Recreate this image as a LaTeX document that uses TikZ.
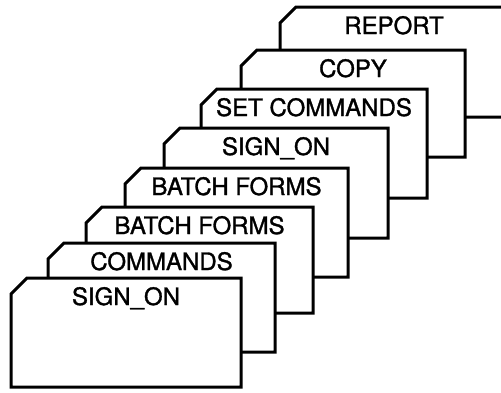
\documentclass[tikz,border=0pt]{standalone}
\usepackage{fontspec}
\newfontfamily\labfont[FakeBold=1.3]{TeX Gyre Heros}
\newcommand\drawcard[6]{%
  % #1 name, #2 left, #3 top, #4 width, #5 height, #6 text
  \draw[card] (#2,#3+16) -- (#2+16,#3) -- (#2+#4,#3) -- (#2+#4,#3+#5) -- (#2,#3+#5) -- cycle;
  \node[lab] (#1) at (#2+#4/2,#3+27) {#6};
}
\begin{document}
\begin{tikzpicture}[x=1pt,y=-1pt,
  card/.style={draw=black, fill=white, line width=3pt, line join=miter},
  lab/.style={anchor=base, inner sep=0pt, font=\labfont\fontsize{24}{26}\selectfont}]
\useasboundingbox (0,0) rectangle (501,392);
\clip (0,0) rectangle (501,392);
\drawcard{report}{280}{7}{228}{110}{REPORT}
\drawcard{copy}{241}{50}{224}{107}{COPY}
\drawcard{setcmd}{201}{89}{226}{109}{SET COMMANDS}
\drawcard{signonb}{164}{128}{224}{110}{SIGN\_ON}
\drawcard{batchb}{125}{168}{223}{109}{BATCH FORMS}
\drawcard{batcha}{86}{207}{227}{106}{BATCH FORMS}
\drawcard{commands}{48}{243}{227}{109}{COMMANDS}
\drawcard{signona}{11}{278}{230}{109}{SIGN\_ON}
\end{tikzpicture}
\end{document}
